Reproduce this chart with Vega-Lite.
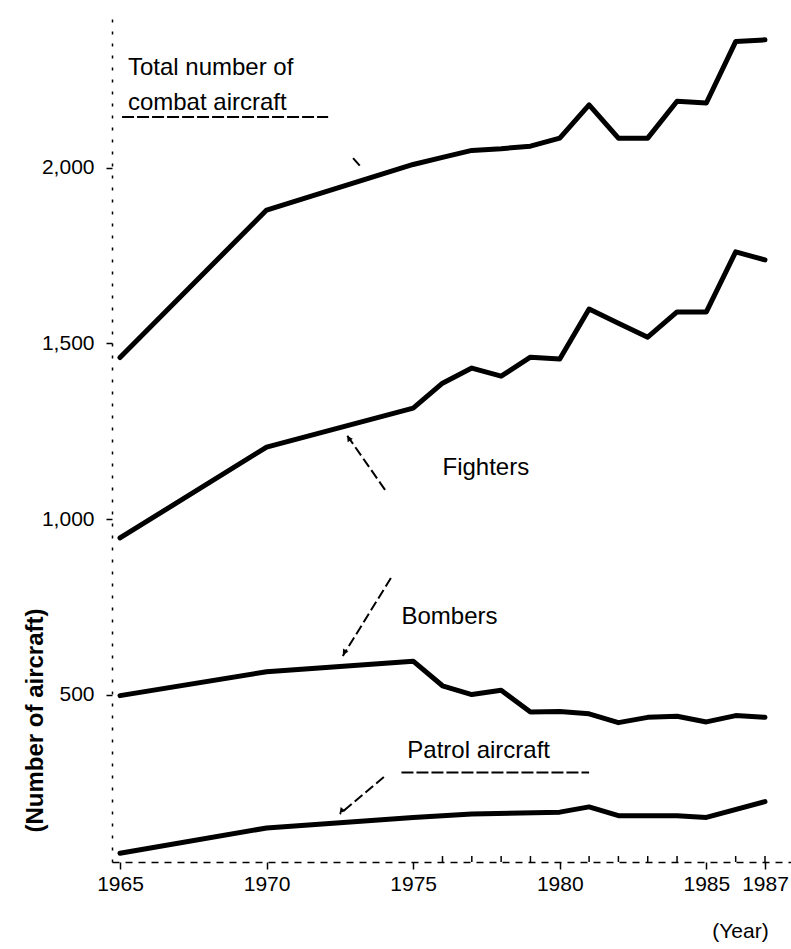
{
  "$schema": "https://vega.github.io/schema/vega-lite/v6.json",
  "autosize": "none",
  "width": 679,
  "height": 852,
  "padding": {"left": 112, "top": 10, "right": 0, "bottom": 87},
  "background": "white",
  "config": {"view": {"stroke": null}, "font": "Liberation Sans"},
  "datasets": {
    "series": [
      {"year": 1965, "series": "Total", "value": 1460},
      {"year": 1970, "series": "Total", "value": 1880},
      {"year": 1975, "series": "Total", "value": 2010},
      {"year": 1976, "series": "Total", "value": 2030},
      {"year": 1977, "series": "Total", "value": 2050},
      {"year": 1978, "series": "Total", "value": 2055},
      {"year": 1979, "series": "Total", "value": 2062},
      {"year": 1980, "series": "Total", "value": 2085},
      {"year": 1981, "series": "Total", "value": 2180},
      {"year": 1982, "series": "Total", "value": 2085},
      {"year": 1983, "series": "Total", "value": 2085},
      {"year": 1984, "series": "Total", "value": 2190},
      {"year": 1985, "series": "Total", "value": 2185},
      {"year": 1986, "series": "Total", "value": 2360},
      {"year": 1987, "series": "Total", "value": 2365},
      {"year": 1965, "series": "Fighters", "value": 946},
      {"year": 1970, "series": "Fighters", "value": 1205},
      {"year": 1975, "series": "Fighters", "value": 1316},
      {"year": 1976, "series": "Fighters", "value": 1387},
      {"year": 1977, "series": "Fighters", "value": 1430},
      {"year": 1978, "series": "Fighters", "value": 1407},
      {"year": 1979, "series": "Fighters", "value": 1461},
      {"year": 1980, "series": "Fighters", "value": 1456},
      {"year": 1981, "series": "Fighters", "value": 1598},
      {"year": 1982, "series": "Fighters", "value": 1558},
      {"year": 1983, "series": "Fighters", "value": 1518},
      {"year": 1984, "series": "Fighters", "value": 1590},
      {"year": 1985, "series": "Fighters", "value": 1590},
      {"year": 1986, "series": "Fighters", "value": 1761},
      {"year": 1987, "series": "Fighters", "value": 1738},
      {"year": 1965, "series": "Bombers", "value": 497},
      {"year": 1970, "series": "Bombers", "value": 565},
      {"year": 1975, "series": "Bombers", "value": 595},
      {"year": 1976, "series": "Bombers", "value": 525},
      {"year": 1977, "series": "Bombers", "value": 500},
      {"year": 1978, "series": "Bombers", "value": 512},
      {"year": 1979, "series": "Bombers", "value": 450},
      {"year": 1980, "series": "Bombers", "value": 452},
      {"year": 1981, "series": "Bombers", "value": 445},
      {"year": 1982, "series": "Bombers", "value": 420},
      {"year": 1983, "series": "Bombers", "value": 435},
      {"year": 1984, "series": "Bombers", "value": 438},
      {"year": 1985, "series": "Bombers", "value": 422},
      {"year": 1986, "series": "Bombers", "value": 440},
      {"year": 1987, "series": "Bombers", "value": 435},
      {"year": 1965, "series": "Patrol", "value": 48},
      {"year": 1970, "series": "Patrol", "value": 120},
      {"year": 1975, "series": "Patrol", "value": 150},
      {"year": 1977, "series": "Patrol", "value": 160},
      {"year": 1980, "series": "Patrol", "value": 165},
      {"year": 1981, "series": "Patrol", "value": 180},
      {"year": 1982, "series": "Patrol", "value": 155},
      {"year": 1984, "series": "Patrol", "value": 155},
      {"year": 1985, "series": "Patrol", "value": 150},
      {"year": 1987, "series": "Patrol", "value": 195}
    ],
    "labels": [
      {"year": 1965.27, "value": 2265, "label": ["Total number of", "combat aircraft"]},
      {"year": 1976.0, "value": 1125, "label": ["Fighters"]},
      {"year": 1974.6, "value": 700, "label": ["Bombers"]},
      {"year": 1974.8, "value": 320, "label": ["Patrol aircraft"]}
    ],
    "pointers": [
      {"x1": 1965.07, "x2": 1972.1, "y1": 2145, "y2": 2145, "kind": "underline"},
      {"x1": 1972.95, "x2": 1973.25, "y1": 2028, "y2": 2000, "kind": "arrow"},
      {"x1": 1974.04, "x2": 1972.74, "y1": 1083, "y2": 1239, "kind": "arrow"},
      {"x1": 1974.24, "x2": 1972.6, "y1": 832, "y2": 610, "kind": "arrow"},
      {"x1": 1974.6, "x2": 1981.0, "y1": 278, "y2": 278, "kind": "underline"},
      {"x1": 1974.0, "x2": 1972.5, "y1": 265, "y2": 160, "kind": "arrow"}
    ],
    "heads": [
      {"year": 1972.8, "value": 1230, "angle": 325},
      {"year": 1972.65, "value": 620, "angle": 212},
      {"year": 1972.55, "value": 168, "angle": 220}
    ],
    "minor": [
      {"year": 1976}, {"year": 1977}, {"year": 1978}, {"year": 1979},
      {"year": 1981}, {"year": 1982}, {"year": 1983}, {"year": 1984},
      {"year": 1986}, {"year": 1987}
    ]
  },
  "layer": [
    {
      "data": {"name": "series"},
      "mark": {"type": "line", "strokeWidth": 5, "strokeCap": "round", "strokeJoin": "round", "color": "black"},
      "encoding": {
        "x": {
          "field": "year", "type": "quantitative",
          "scale": {"domain": [1964.727, 1987.887], "nice": false, "zero": false},
          "axis": {
            "values": [1965, 1970, 1975, 1980, 1985, 1987], "format": "d",
            "grid": false, "domainColor": "black", "domainDash": [7, 6], "domainWidth": 1.5,
            "tickColor": "black", "tickSize": 7, "tickWidth": 1.5,
            "labelFont": "Liberation Sans", "labelFontSize": 21, "labelColor": "black", "labelPadding": 4,
            "labelFlush": false,
            "title": "(Year)", "titleFont": "Liberation Sans", "titleFontSize": 21, "titleFontWeight": "normal",
            "titleColor": "black", "titleX": 628, "titleY": 58, "titleAlign": "center"
          }
        },
        "y": {
          "field": "value", "type": "quantitative",
          "scale": {"domain": [23, 2450], "nice": false, "zero": false},
          "axis": {
            "values": [500, 1000, 1500, 2000], "format": ",d",
            "grid": false, "domainColor": "black", "domainDash": [3, 9], "domainWidth": 1.5,
            "tickColor": "black", "tickSize": 6, "tickWidth": 1.5,
            "labelFont": "Liberation Sans", "labelFontSize": 21, "labelColor": "black", "labelPadding": 12,
            "title": "(Number of aircraft)", "titleFont": "Liberation Sans", "titleFontSize": 24, "titleFontWeight": "bold",
            "titleColor": "black", "titleX": -77, "titleY": 710, "titleAngle": -90, "titleAlign": "center", "titleBaseline": "middle"
          }
        },
        "detail": {"field": "series"}
      }
    },
    {
      "data": {"name": "minor"},
      "mark": {"type": "rule", "color": "black", "strokeWidth": 1.5},
      "encoding": {
        "x": {"field": "year", "type": "quantitative"},
        "y": {"datum": 23, "type": "quantitative"},
        "y2": {"datum": 40}
      }
    },
    {
      "data": {"name": "pointers"},
      "mark": {"type": "rule", "color": "black", "strokeWidth": 2},
      "encoding": {
        "x": {"field": "x1", "type": "quantitative"},
        "x2": {"field": "x2"},
        "y": {"field": "y1", "type": "quantitative"},
        "y2": {"field": "y2"},
        "strokeDash": {"field": "kind", "type": "nominal", "scale": {"domain": ["underline", "arrow"], "range": [[12, 3], [10, 4]]}, "legend": null}
      }
    },
    {
      "data": {"name": "heads"},
      "mark": {"type": "point", "shape": "triangle-up", "filled": true, "color": "black", "size": 40, "opacity": 1},
      "encoding": {
        "x": {"field": "year", "type": "quantitative"},
        "y": {"field": "value", "type": "quantitative"},
        "angle": {"field": "angle", "type": "quantitative", "scale": null}
      }
    },
    {
      "data": {"name": "labels"},
      "mark": {"type": "text", "align": "left", "baseline": "alphabetic", "fontSize": 24, "lineHeight": 35, "font": "Liberation Sans", "color": "black"},
      "encoding": {
        "x": {"field": "year", "type": "quantitative"},
        "y": {"field": "value", "type": "quantitative"},
        "text": {"field": "label"}
      }
    }
  ]
}
